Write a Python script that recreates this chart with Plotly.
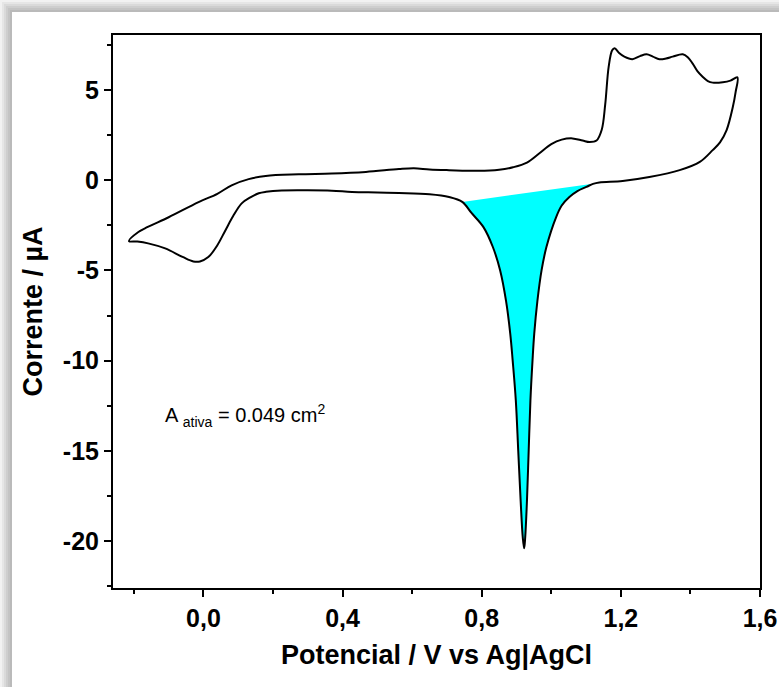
import plotly.graph_objects as go

# Cyclic voltammogram: anodic scan (upper branch) followed by cathodic scan (lower branch)
potential_V = [
    -0.214, -0.187, -0.16, -0.10, -0.014, 0.04, 0.081, 0.13, 0.179, 0.274, 0.369, 0.467,
    0.562, 0.605, 0.65, 0.706, 0.79, 0.85, 0.89, 0.93, 0.965, 1.00, 1.03, 1.061, 1.09,
    1.11, 1.13, 1.145, 1.155, 1.165, 1.175, 1.182, 1.195, 1.21, 1.233, 1.255, 1.274,
    1.292, 1.311, 1.33, 1.349, 1.378, 1.393, 1.406, 1.42, 1.435, 1.45, 1.464, 1.493,
    1.515, 1.535,
    1.53, 1.522, 1.504, 1.485, 1.464, 1.427, 1.369, 1.282, 1.205, 1.138,
    1.12, 1.101, 1.075, 1.052, 1.03, 1.014, 0.986, 0.972, 0.960, 0.951, 0.946, 0.940,
    0.935, 0.930, 0.925, 0.922, 0.918, 0.912, 0.905, 0.898, 0.889, 0.882, 0.870, 0.853,
    0.832, 0.805, 0.77, 0.744,
    0.706, 0.65, 0.562, 0.50, 0.427, 0.369, 0.30, 0.225, 0.18, 0.159, 0.135, 0.110,
    0.085, 0.063, 0.04, 0.014, -0.01, -0.029, -0.06, -0.11, -0.159, -0.19, -0.214,
]
current_uA = [
    -3.37, -2.87, -2.59, -2.05, -1.21, -0.75, -0.28, 0.06, 0.24, 0.33, 0.37, 0.46,
    0.62, 0.66, 0.60, 0.56, 0.52, 0.58, 0.72, 0.98, 1.48, 2.0, 2.25, 2.32, 2.2,
    2.12, 2.2, 2.8, 4.2, 6.3, 7.2, 7.32, 7.05, 6.85, 6.71, 6.88, 6.98,
    6.85, 6.71, 6.75, 6.85, 6.98, 6.8, 6.48, 6.05, 5.74, 5.5, 5.41, 5.43,
    5.52, 5.7,
    4.9, 4.07, 2.78, 2.1, 1.67, 1.02, 0.56, 0.18, -0.04, -0.12,
    -0.2, -0.37, -0.6, -0.93, -1.4, -2.04, -3.7, -5.0, -6.7, -8.5, -10.0, -12.2,
    -15.0, -17.8, -19.8, -20.4, -19.8, -17.8, -15.0, -12.2, -10.0, -8.5, -6.7, -5.0,
    -3.7, -2.6, -1.8, -1.2,
    -0.93, -0.78, -0.71, -0.68, -0.65, -0.58, -0.56, -0.57, -0.64, -0.72, -0.95, -1.28,
    -2.0, -2.78, -3.6, -4.26, -4.5, -4.5, -4.25, -3.78, -3.5, -3.4, -3.37,
]

# integrated cathodic peak region (from E = 1.12 V down to E = 0.744 V)
peak_start_V = 1.12
peak_end_V = 0.744

x_tickvals = [0.0, 0.4, 0.8, 1.2, 1.6]
x_ticktext = ["0,0", "0,4", "0,8", "1,2", "1,6"]
y_tickvals = [5, 0, -5, -10, -15, -20]
y_ticktext = ["5", "0", "-5", "-10", "-15", "-20"]

x_title = "Potencial / V vs Ag|AgCl"
y_title = "Corrente / µA"
area_text = "A <sub>ativa</sub> = 0.049 cm<sup>2</sup>"

i0 = potential_V.index(peak_start_V)
i1 = potential_V.index(peak_end_V)
fill_x = potential_V[i0:i1 + 1]
fill_y = current_uA[i0:i1 + 1]

W, H = 779, 687
ML, MR, MT, MB = 113, 19, 35, 99
PW, PH = W - ML - MR, H - MT - MB


def px(xp):
    return (xp - ML) / PW


def py(yp):
    return (H - MB - yp) / PH


fig = go.Figure()
fig.add_trace(go.Scatter(
    x=fill_x, y=fill_y, mode="lines", fill="toself", fillcolor="#00ffff",
    line=dict(width=0, color="#00ffff", shape="spline", smoothing=1),
    hoverinfo="skip", showlegend=False,
))
fig.add_trace(go.Scatter(
    x=potential_V, y=current_uA, mode="lines",
    line=dict(color="black", width=2, shape="spline", smoothing=1),
    showlegend=False,
))

# drop-shadow frame around white panel
shapes = []
shadow_cols = ["#f2f2f2", "#e6e6e6", "#dadada", "#cecece", "#c4c4c4", "#bababa"]
for k, c in enumerate(shadow_cols):
    shapes.append(dict(type="rect", xref="paper", yref="paper", layer="below",
                       x0=px(k * 2), x1=px(W + 5), y0=py(H + 5), y1=py(k * 2),
                       fillcolor=c, line=dict(width=0)))
shapes.append(dict(type="rect", xref="paper", yref="paper", layer="below",
                   x0=px(12), x1=px(W + 5), y0=py(H + 5), y1=py(12),
                   fillcolor="white", line=dict(width=0)))

tickfont = dict(family="Liberation Sans", size=25, color="black", weight="bold")
titlefont = dict(family="Liberation Sans", size=27, color="black", weight="bold")

fig.update_layout(
    width=W, height=H,
    margin=dict(l=ML, r=MR, t=MT, b=MB),
    paper_bgcolor="white", plot_bgcolor="white",
    template="none",
    shapes=shapes,
    xaxis=dict(
        range=[-0.26, 1.6], tickvals=x_tickvals, ticktext=x_ticktext,
        ticks="outside", ticklen=7, tickwidth=1.5, tickcolor="black",
        minor=dict(dtick=0.2, tick0=0, ticks="outside", ticklen=4, tickwidth=1.5, tickcolor="black"),
        showline=True, linecolor="black", linewidth=2, mirror=True,
        showgrid=False, zeroline=False, automargin=False,
        tickfont=tickfont,
        title=dict(text=x_title, font=titlefont, standoff=14),
    ),
    yaxis=dict(
        range=[-22.6, 8.05], tickvals=y_tickvals, ticktext=y_ticktext,
        ticks="outside", ticklen=7, tickwidth=1.5, tickcolor="black",
        minor=dict(dtick=2.5, tick0=0, ticks="outside", ticklen=4, tickwidth=1.5, tickcolor="black"),
        showline=True, linecolor="black", linewidth=2, mirror=True,
        showgrid=False, zeroline=False, automargin=False,
        tickfont=tickfont,
        title=dict(text=y_title, font=titlefont, standoff=12),
    ),
    annotations=[dict(
        text=area_text, xref="paper", yref="paper", x=px(163), y=py(415),
        xanchor="left", yanchor="middle", showarrow=False,
        font=dict(family="Liberation Sans", size=20, color="black"),
    )],
)

fig.write_html(
    "out.html",
    config={"displayModeBar": False},
    post_script="document.body.style.margin='0';document.body.style.padding='0';",
)
